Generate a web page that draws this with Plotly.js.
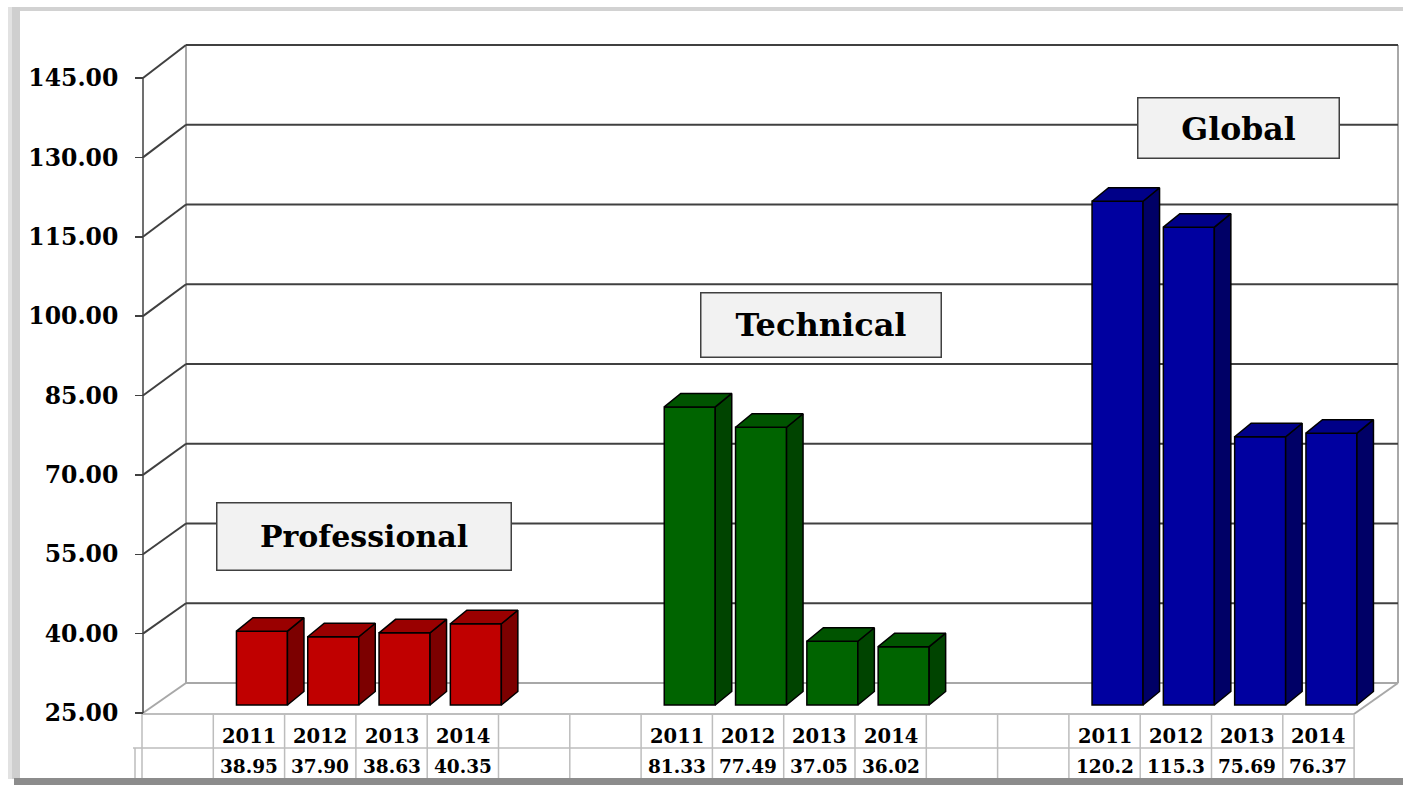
<!DOCTYPE html>
<html><head><meta charset="utf-8">
<script src="https://cdn.plot.ly/plotly-3.0.1.min.js"></script>
<style>html,body{margin:0;padding:0;background:#fff;}#chart{width:1403px;height:785px;}</style>
</head><body><div id="chart"></div>
<script>
// ---------- data ----------
const groups = ['Professional', 'Technical', 'Global'];
const years = ['2011', '2012', '2013', '2014'];
const professional = [38.95, 37.90, 38.63, 40.35];
const technical = [81.33, 77.49, 37.05, 36.02];
const globalVals = [120.2, 115.3, 75.69, 76.37];
const yTicks = [25, 40, 55, 70, 85, 100, 115, 130, 145];

// ---------- styling / geometry ----------
const seriesValues = [professional, technical, globalVals];
const colors = [
  {front: '#C00000', top: '#9A0000', side: '#7C0000'},
  {front: '#006400', top: '#005400', side: '#004400'},
  {front: '#0000A0', top: '#000088', side: '#000066'}
];
const labelBoxes = [
  {cx: 364.5, cy: 536, w: 293, h: 66, size: 30},
  {cx: 820.5, cy: 324.5, w: 239, h: 63, size: 32},
  {cx: 1238, cy: 128.5, w: 200, h: 59, size: 31.5}
];
const W = 1403, H = 785;
const X0 = 142, SLOT = 71.3, Y25 = 713, TOPPX = 78;
const PPU = (Y25 - TOPPX) / 120;
const BACK = {left: 186, right: 1398, y25: 683, ytop: 45};
const PPUB = (BACK.y25 - BACK.ytop) / 120;
const BAR = {basePx: 705, shiftPx: 13, widthPx: 51, dxPx: 16.5, dyPx: 13.5};
const nSlots = 17;

const px2x = px => -0.5 + (px - X0) / SLOT;
const py2y = py => 25 + (Y25 - py) / PPU;
const pfront = v => Y25 - (v - 25) * PPU;
const pback = v => BACK.y25 - (v - 25) * PPUB;
const PX = px => px / W, PY = py => 1 - py / H;

const barBase = py2y(BAR.basePx);
const barW = BAR.widthPx / SLOT;
const ddx = BAR.dxPx / SLOT, ddy = BAR.dyPx / PPU;
const slotOf = (g, k) => 1 + g * 6 + k;

const traces = [];
seriesValues.forEach((vals, g) => {
  const xs = vals.map((v, k) => slotOf(g, k) + BAR.shiftPx / SLOT);
  traces.push({
    type: 'bar', x: xs, y: vals.map(v => v - 25), base: barBase, width: barW,
    marker: {color: colors[g].front, line: {color: '#000', width: 1.5}},
    hoverinfo: 'skip', showlegend: false
  });
  const sx = [], sy = [], tx = [], ty = [];
  vals.forEach((v, k) => {
    const xl = xs[k] - barW / 2, xr = xs[k] + barW / 2;
    const b = barBase, t = barBase + (v - 25);
    sx.push(xr, xr + ddx, xr + ddx, xr, xr, null);
    sy.push(b, b + ddy, t + ddy, t, b, null);
    tx.push(xl, xl + ddx, xr + ddx, xr, xl, null);
    ty.push(t, t + ddy, t + ddy, t, t, null);
  });
  traces.push({type: 'scatter', mode: 'lines', x: sx, y: sy, fill: 'toself',
    fillcolor: colors[g].side, line: {color: '#000', width: 1.5}, hoverinfo: 'skip', showlegend: false});
  traces.push({type: 'scatter', mode: 'lines', x: tx, y: ty, fill: 'toself',
    fillcolor: colors[g].top, line: {color: '#000', width: 1.5}, hoverinfo: 'skip', showlegend: false});
});

// ---------- shapes ----------
const shapes = [];
const pline = (x0, y0, x1, y1, color, width, layer) => shapes.push({
  type: 'line', xref: 'paper', yref: 'paper', x0: PX(x0), y0: PY(y0), x1: PX(x1), y1: PY(y1),
  line: {color: color, width: width}, layer: layer || 'below'});
const prect = (x0, y0, x1, y1, color) => shapes.push({
  type: 'rect', xref: 'paper', yref: 'paper', x0: PX(x0), y0: PY(y0), x1: PX(x1), y1: PY(y1),
  fillcolor: color, line: {width: 0}, layer: 'above'});

// frame
prect(8, 7, W, 11, '#d2d2d2');
prect(8, 7, 20, 779, '#cfcfcf');
prect(8, 7, 12, 779, '#e2e2e2');
prect(14, 778, W, H, '#8c8c8c');

// walls
const GRID = '#404040', LIGHT = '#a8a8a8';
pline(BACK.left, BACK.ytop, BACK.left, BACK.y25, LIGHT, 2);
pline(BACK.right, BACK.ytop, BACK.right, BACK.y25, LIGHT, 2);
yTicks.forEach(v => {
  const c = v === 25 ? LIGHT : GRID;
  pline(BACK.left, pback(v), BACK.right, pback(v), c, 2);
  pline(143, pfront(v), BACK.left, pback(v), c, 2);
});
// floor front/right edges
pline(142, 714, 1354, 714, LIGHT, 1.5);
pline(1354, 714, BACK.right, BACK.y25, LIGHT, 2);
// front axis line
pline(143, TOPPX, 143, Y25, GRID, 1.5);

// table grid
const TBL = '#bdbdbd';
pline(133, 748, 1354, 748, TBL, 1.5);
for (let k = 0; k <= nSlots; k++) {
  shapes.push({type: 'line', xref: 'x', yref: 'paper', x0: k - 0.5, x1: k - 0.5,
    y0: PY(714), y1: PY(779), line: {color: TBL, width: 1.5}, layer: 'below'});
}
pline(135, 748, 135, 779, TBL, 1.5);

// ---------- annotations ----------
const annotations = [];
groups.forEach((name, g) => {
  const b = labelBoxes[g];
  annotations.push({xref: 'paper', yref: 'paper', x: PX(b.cx), y: PY(b.cy),
    xanchor: 'center', yanchor: 'middle', showarrow: false,
    text: '<b>' + name + '</b>', width: b.w, height: b.h,
    bgcolor: '#f2f2f2', bordercolor: '#404040', borderwidth: 1.5, borderpad: 0,
    font: {family: 'DejaVu Serif', size: b.size, color: '#000'}});
  seriesValues[g].forEach((v, k) => {
    annotations.push({xref: 'x', yref: 'paper', x: slotOf(g, k), y: PY(736),
      xanchor: 'center', yanchor: 'middle', showarrow: false, text: '<b>' + years[k] + '</b>',
      font: {family: 'DejaVu Serif', size: 19.5, color: '#000'}});
    annotations.push({xref: 'x', yref: 'paper', x: slotOf(g, k), y: PY(766),
      xanchor: 'center', yanchor: 'middle', showarrow: false, text: '<b>' + v.toPrecision(4) + '</b>',
      font: {family: 'DejaVu Serif', size: 18.5, color: '#000'}});
  });
});

const layout = {
  width: W, height: H, margin: {l: 0, r: 0, t: 0, b: 0},
  paper_bgcolor: '#fff', plot_bgcolor: 'rgba(0,0,0,0)',
  showlegend: false, barmode: 'overlay', hovermode: false,
  xaxis: {range: [px2x(0), px2x(W)], visible: false, fixedrange: true},
  yaxis: {range: [py2y(H), py2y(0)], anchor: 'free', position: PX(143),
    tickmode: 'array', tickvals: yTicks, ticktext: yTicks.map(v => v.toFixed(2)),
    ticks: 'outside', ticklen: 8, tickwidth: 1.5, tickcolor: GRID, ticklabelstandoff: 12,
    tickfont: {family: 'DejaVu Serif', size: 23.5, color: '#000', weight: 'bold'},
    showgrid: false, zeroline: false, showline: false, fixedrange: true},
  shapes: shapes, annotations: annotations
};
Plotly.newPlot('chart', traces, layout, {displayModeBar: false, staticPlot: true});
</script></body></html>
